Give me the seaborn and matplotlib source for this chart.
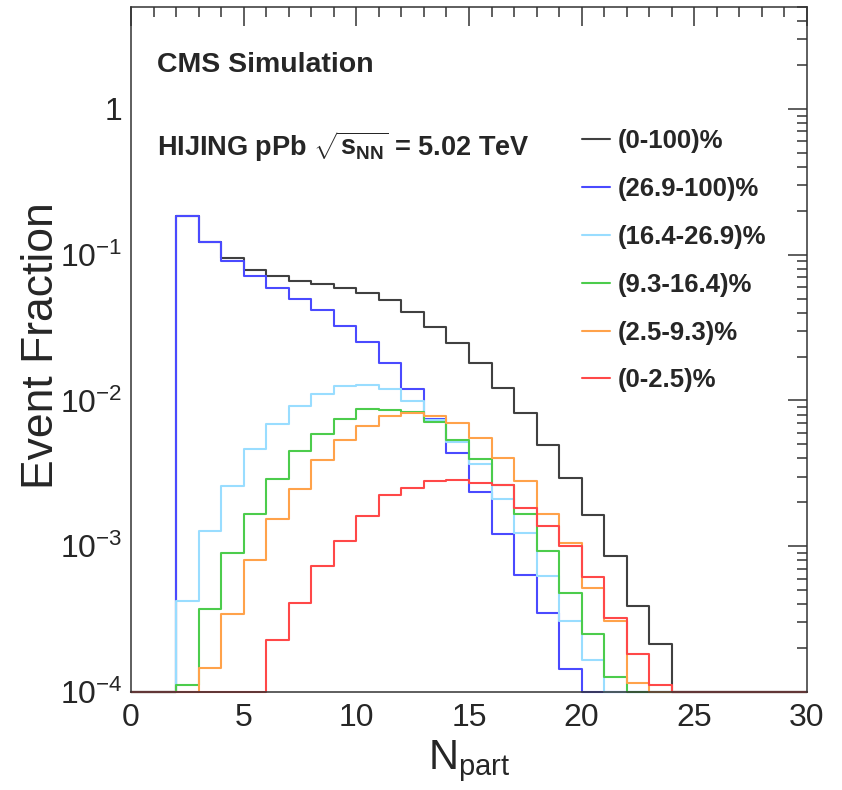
import numpy as np
import pandas as pd
import matplotlib
matplotlib.use("Agg")
import matplotlib.pyplot as plt
from matplotlib.ticker import FixedLocator, FixedFormatter, LogLocator, NullFormatter, MultipleLocator
import seaborn as sns

# ---------------- data ----------------
bin_edges = list(range(0, 31))   # N_part bin edges 0..30
labels = ["(0-100)%", "(26.9-100)%", "(16.4-26.9)%", "(9.3-16.4)%", "(2.5-9.3)%", "(0-2.5)%"]
colors = ["#404040", "#4a4aff", "#99ddff", "#4ccc4c", "#ffa24a", "#ff4848"]

frac_0_100 = [0, 0, 0.183, 0.123, 0.0944, 0.0786, 0.0715, 0.0664, 0.063, 0.0592, 0.0543, 0.049,
              0.0407, 0.0321, 0.0247, 0.0180, 0.0122, 0.00816, 0.00495, 0.00295, 0.00163, 8.6e-4,
              3.86e-4, 2.13e-4, 0, 0, 0, 0, 0, 0]
frac_269_100 = [0, 0, 0.183, 0.123, 0.091, 0.0718, 0.0594, 0.0497, 0.0415, 0.0326, 0.0250, 0.0181,
                0.0120, 0.00741, 0.00434, 0.00235, 0.00122, 6.3e-4, 3.49e-4, 1.43e-4, 0, 0,
                0, 0, 0, 0, 0, 0, 0, 0]
frac_164_269 = [0, 0, 4.2e-4, 1.27e-3, 2.58e-3, 4.65e-3, 6.92e-3, 9.14e-3, 0.0111, 0.0126, 0.0127, 0.0119,
                0.0099, 0.0073, 0.0052, 0.00366, 0.0021, 1.23e-3, 6.26e-4, 3.08e-4, 1.67e-4, 0,
                0, 0, 0, 0, 0, 0, 0, 0]
frac_93_164 = [0, 0, 1.12e-4, 3.72e-4, 8.95e-4, 1.67e-3, 2.91e-3, 4.5e-3, 5.92e-3, 7.45e-3, 8.73e-3, 8.55e-3,
               8.28e-3, 7.1e-3, 5.38e-3, 3.98e-3, 2.62e-3, 1.66e-3, 9.3e-4, 4.79e-4, 2.48e-4, 1.27e-4,
               0, 0, 0, 0, 0, 0, 0, 0]
frac_25_93 = [0, 0, 0, 1.47e-4, 3.44e-4, 8.1e-4, 1.53e-3, 2.45e-3, 3.9e-3, 5.32e-3, 6.63e-3, 7.77e-3,
              8.19e-3, 7.85e-3, 7.0e-3, 5.52e-3, 4.05e-3, 2.79e-3, 1.66e-3, 1.05e-3, 5.18e-4, 3.08e-4,
              1.15e-4, 0, 0, 0, 0, 0, 0, 0]
frac_0_25 = [0, 0, 0, 0, 0, 0, 2.26e-4, 4.11e-4, 7.3e-4, 1.08e-3, 1.6e-3, 2.23e-3,
             2.51e-3, 2.79e-3, 2.86e-3, 2.71e-3, 2.64e-3, 1.84e-3, 1.37e-3, 1.0e-3, 6.16e-4, 3.2e-4,
             1.81e-4, 1.12e-4, 0, 0, 0, 0, 0, 0]
series = [frac_0_100, frac_269_100, frac_164_269, frac_93_164, frac_25_93, frac_0_25]

x_ticks = [0, 5, 10, 15, 20, 25, 30]
x_tick_labels = ["0", "5", "10", "15", "20", "25", "30"]
y_ticks = [1e-4, 1e-3, 1e-2, 1e-1, 1]
y_tick_labels = ["10$^{-4}$", "10$^{-3}$", "10$^{-2}$", "10$^{-1}$", "1"]

YMIN, YMAX = 1e-4, 5.0

# ---------------- style ----------------
sns.set_style("white")
plt.rcParams['font.family'] = ['Liberation Sans', 'DejaVu Sans']
plt.rcParams['mathtext.fontset'] = 'custom'
plt.rcParams['mathtext.rm'] = 'Liberation Sans'
plt.rcParams['mathtext.it'] = 'Liberation Sans:italic'
plt.rcParams['mathtext.bf'] = 'Liberation Sans:bold'

fig = plt.figure(figsize=(8.42, 7.90), dpi=100)
ax = fig.add_axes([131/842, 1 - 692/790, 676/842, 685/790])

for vals, lab, col in zip(series, labels, colors):
    v = np.maximum(np.array(vals, dtype=float), YMIN)
    yv = list(v) + [v[-1]]
    df = pd.DataFrame({"x": bin_edges, "y": yv})
    sns.lineplot(data=df, x="x", y="y", drawstyle="steps-post", color=col, lw=1.5,
                 estimator=None, sort=False, ax=ax, label=lab, clip_on=False)

ax.set_yscale("log")
ax.set_xlim(0, 30)
ax.set_ylim(YMIN, YMAX)

ax.xaxis.set_major_locator(FixedLocator(x_ticks))
ax.xaxis.set_major_formatter(FixedFormatter(x_tick_labels))
ax.xaxis.set_minor_locator(MultipleLocator(1))
ax.yaxis.set_major_locator(FixedLocator(y_ticks))
ax.yaxis.set_major_formatter(FixedFormatter(y_tick_labels))
ax.yaxis.set_minor_locator(LogLocator(base=10, subs=np.arange(2, 10), numticks=20))
ax.yaxis.set_minor_formatter(NullFormatter())

ax.tick_params(which="both", direction="in", top=True, right=True, color="#333333")
ax.tick_params(which="major", length=14, width=1.1)
ax.tick_params(which="minor", length=7, width=1.1)
ax.tick_params(axis="x", which="major", labelsize=23, pad=8)
ax.tick_params(axis="y", which="major", labelsize=23, pad=6)
for s in ax.spines.values():
    s.set_linewidth(1.1)
    s.set_color("#333333")

ax.set_xlabel("N$_{\\mathrm{part}}$", fontsize=30, labelpad=4)
ax.set_ylabel("Event Fraction", fontsize=32, va="center")
ax.yaxis.set_label_coords(-(131 - 42) / 676, 0.505)

ax.text(0.0385, 0.915, "CMS Simulation", transform=ax.transAxes, fontsize=20.5,
        fontweight="bold", va="center", ha="left")
ax.text(0.0385, 0.796, r"HIJING pPb $\mathbf{\sqrt{s_{NN}}}$ = 5.02 TeV", transform=ax.transAxes,
        fontsize=19.5, fontweight="bold", va="center", ha="left")

leg = ax.legend(loc="upper left", bbox_to_anchor=(0.667, 0.822), frameon=False,
                borderpad=0, borderaxespad=0, handlelength=1.1, handletextpad=0.3,
                labelspacing=0.93, prop={"weight": "bold", "size": 18.5})

fig.savefig("out.png", dpi=100)
